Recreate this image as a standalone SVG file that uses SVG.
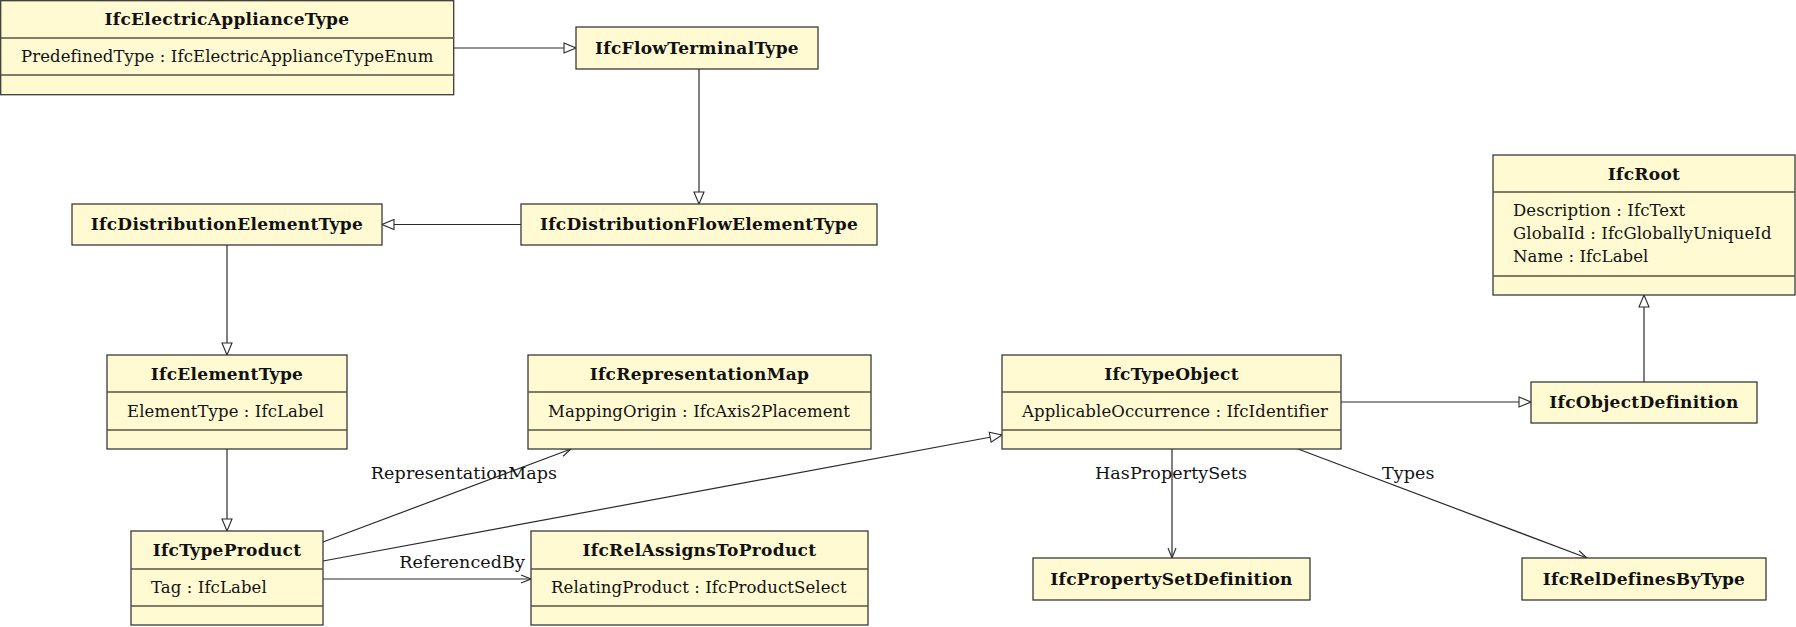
<svg xmlns="http://www.w3.org/2000/svg" width="1796" height="627" viewBox="0 0 1796 627">
<style>
.box{fill:#fffad2;stroke:#3a3a3a;stroke-width:1.3}
.div{stroke:#55533f;stroke-width:1.3}
.h{font-family:"DejaVu Serif","Liberation Serif",serif;font-weight:bold;font-size:17px;letter-spacing:0.3px;text-anchor:middle;fill:#111}
.a{font-family:"DejaVu Serif","Liberation Serif",serif;font-size:16.5px;letter-spacing:0.1px;fill:#111}
.l{font-family:"DejaVu Serif","Liberation Serif",serif;font-size:17.5px;letter-spacing:0.1px;fill:#111}
.c{fill:none;stroke:#2a2a2a;stroke-width:1.2}
</style>
<defs>
<marker id="gen" viewBox="-1 -1 14 12" refX="12" refY="5" markerWidth="14" markerHeight="12" orient="auto" markerUnits="userSpaceOnUse">
<path d="M0,0 L12,5 L0,10 Z" fill="#fff" stroke="#2a2a2a" stroke-width="1.1"/>
</marker>
<marker id="nav" viewBox="-1 -1 12 10" refX="10" refY="4" markerWidth="12" markerHeight="10" orient="auto" markerUnits="userSpaceOnUse">
<path d="M0,0 L10,4 L0,8" fill="none" stroke="#2a2a2a" stroke-width="1.1"/>
</marker>
</defs>
<g id="connectors">
<line class="c" x1="454" y1="48" x2="576" y2="48" marker-end="url(#gen)"/>
<line class="c" x1="699" y1="69" x2="699" y2="204" marker-end="url(#gen)"/>
<line class="c" x1="521" y1="224.5" x2="382" y2="224.5" marker-end="url(#gen)"/>
<line class="c" x1="227" y1="245" x2="227" y2="355" marker-end="url(#gen)"/>
<line class="c" x1="227" y1="449" x2="227" y2="531" marker-end="url(#gen)"/>
<line class="c" x1="323" y1="561" x2="1002" y2="435" marker-end="url(#gen)"/>
<line class="c" x1="323" y1="542" x2="571" y2="449" marker-end="url(#nav)"/>
<text class="l" x="464" y="479" text-anchor="middle">RepresentationMaps</text>
<line class="c" x1="323" y1="579" x2="531" y2="579" marker-end="url(#nav)"/>
<text class="l" x="525" y="568" text-anchor="end">ReferencedBy</text>
<line class="c" x1="1341" y1="402" x2="1531" y2="402" marker-end="url(#gen)"/>
<line class="c" x1="1644" y1="382" x2="1644" y2="295" marker-end="url(#gen)"/>
<line class="c" x1="1172" y1="449" x2="1172" y2="558" marker-end="url(#nav)"/>
<text class="l" x="1171" y="479" text-anchor="middle">HasPropertySets</text>
<line class="c" x1="1298" y1="449" x2="1587" y2="558" marker-end="url(#nav)"/>
<text class="l" x="1382" y="479">Types</text>
</g>
<g id="IfcElectricApplianceType">
<rect class="box" x="0.7" y="0.7" width="453" height="94"/>
<line class="div" x1="0.7" y1="38" x2="453.7" y2="38"/>
<line class="div" x1="0.7" y1="75" x2="453.7" y2="75"/>
<text class="h" x="227" y="25">IfcElectricApplianceType</text>
<text class="a" x="21" y="62">PredefinedType : IfcElectricApplianceTypeEnum</text>
</g>
<g id="IfcFlowTerminalType">
<rect class="box" x="576" y="27" width="242" height="42"/>
<text class="h" x="697" y="54">IfcFlowTerminalType</text>
</g>
<g id="IfcDistributionFlowElementType">
<rect class="box" x="521" y="204" width="356" height="41"/>
<text class="h" x="699" y="230">IfcDistributionFlowElementType</text>
</g>
<g id="IfcDistributionElementType">
<rect class="box" x="72" y="204" width="310" height="41"/>
<text class="h" x="227" y="230">IfcDistributionElementType</text>
</g>
<g id="IfcElementType">
<rect class="box" x="107" y="355" width="240" height="94"/>
<line class="div" x1="107" y1="392" x2="347" y2="392"/>
<line class="div" x1="107" y1="430" x2="347" y2="430"/>
<text class="h" x="227" y="380">IfcElementType</text>
<text class="a" x="127" y="417">ElementType : IfcLabel</text>
</g>
<g id="IfcTypeProduct">
<rect class="box" x="131" y="531" width="192" height="94"/>
<line class="div" x1="131" y1="569" x2="323" y2="569"/>
<line class="div" x1="131" y1="606" x2="323" y2="606"/>
<text class="h" x="227" y="556">IfcTypeProduct</text>
<text class="a" x="151" y="593">Tag : IfcLabel</text>
</g>
<g id="IfcRepresentationMap">
<rect class="box" x="528" y="355" width="343" height="94"/>
<line class="div" x1="528" y1="392" x2="871" y2="392"/>
<line class="div" x1="528" y1="430" x2="871" y2="430"/>
<text class="h" x="699.5" y="380">IfcRepresentationMap</text>
<text class="a" x="548" y="417">MappingOrigin : IfcAxis2Placement</text>
</g>
<g id="IfcRelAssignsToProduct">
<rect class="box" x="531" y="531" width="337" height="94"/>
<line class="div" x1="531" y1="569" x2="868" y2="569"/>
<line class="div" x1="531" y1="606" x2="868" y2="606"/>
<text class="h" x="699.5" y="556">IfcRelAssignsToProduct</text>
<text class="a" x="551" y="593">RelatingProduct : IfcProductSelect</text>
</g>
<g id="IfcTypeObject">
<rect class="box" x="1002" y="355" width="339" height="94"/>
<line class="div" x1="1002" y1="392" x2="1341" y2="392"/>
<line class="div" x1="1002" y1="430" x2="1341" y2="430"/>
<text class="h" x="1171.5" y="380">IfcTypeObject</text>
<text class="a" x="1022" y="417">ApplicableOccurrence : IfcIdentifier</text>
</g>
<g id="IfcObjectDefinition">
<rect class="box" x="1531" y="382" width="226" height="41"/>
<text class="h" x="1644" y="408">IfcObjectDefinition</text>
</g>
<g id="IfcRoot">
<rect class="box" x="1493" y="155" width="302" height="140"/>
<line class="div" x1="1493" y1="192" x2="1795" y2="192"/>
<line class="div" x1="1493" y1="276" x2="1795" y2="276"/>
<text class="h" x="1644" y="180">IfcRoot</text>
<text class="a" x="1513" y="216">Description : IfcText</text>
<text class="a" x="1513" y="239">GlobalId : IfcGloballyUniqueId</text>
<text class="a" x="1513" y="262">Name : IfcLabel</text>
</g>
<g id="IfcPropertySetDefinition">
<rect class="box" x="1033" y="558" width="277" height="42"/>
<text class="h" x="1171.5" y="585">IfcPropertySetDefinition</text>
</g>
<g id="IfcRelDefinesByType">
<rect class="box" x="1522" y="558" width="244" height="42"/>
<text class="h" x="1644" y="585">IfcRelDefinesByType</text>
</g>
</svg>
